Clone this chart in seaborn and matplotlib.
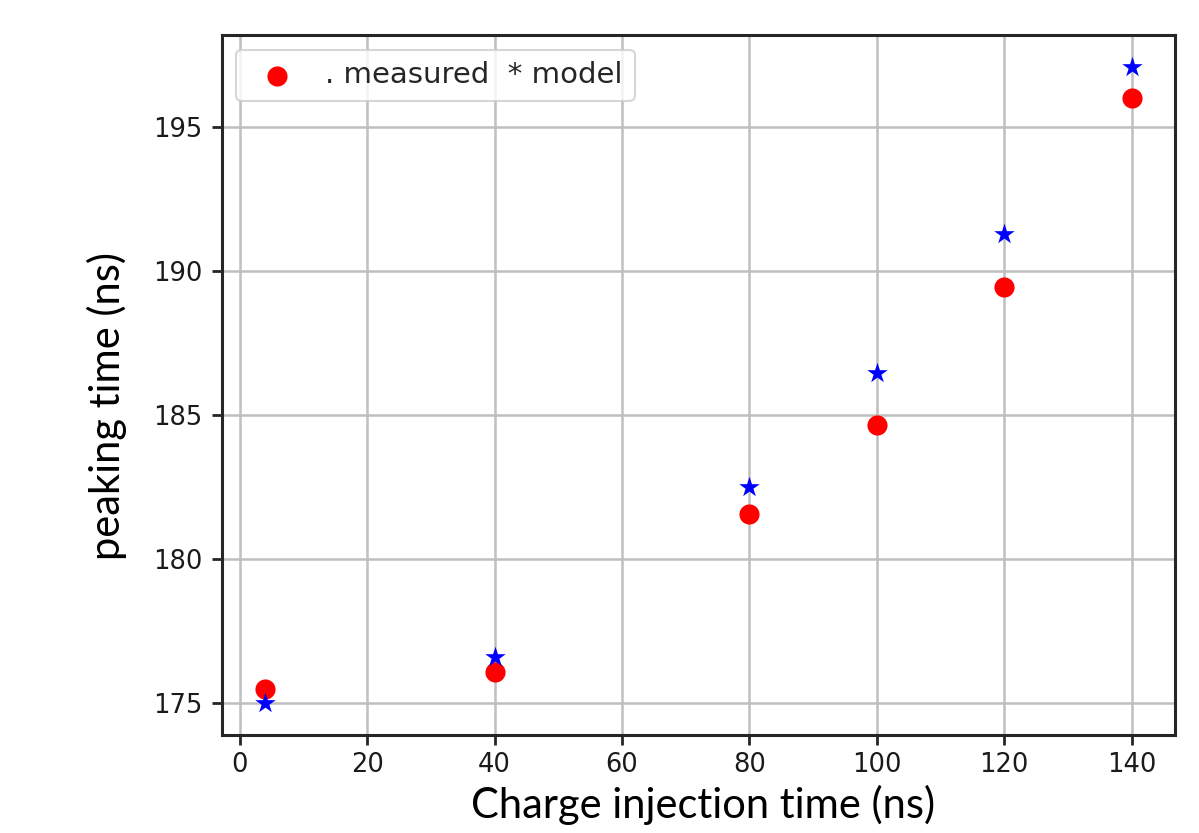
"""
Peaking time vs charge injection time: measured and model
"""
import numpy as np
import pandas as pd
import matplotlib
matplotlib.use("Agg")
import matplotlib.pyplot as plt
import seaborn as sns

# data
injection_time = [4, 40, 80, 100, 120, 140]
measured = [175.48, 176.07, 181.55, 184.67, 189.45, 196.0]
model = [175.0, 176.6, 182.49, 186.47, 191.29, 197.08]
x_ticks = [0, 20, 40, 60, 80, 100, 120, 140]
y_ticks = [175, 180, 185, 190, 195]

df = pd.DataFrame({"t": injection_time, "measured": measured, "model": model})

sns.set_theme(style="ticks")
plt.rcParams["font.family"] = ["DejaVu Sans"]

fig = plt.figure(figsize=(11.99, 8.33), dpi=100)
ax = fig.add_axes([0.185, 0.1176, 0.795, 0.8404])

sns.scatterplot(data=df, x="t", y="measured", color="red", marker="o",
                s=210, linewidth=0, label=". measured  * model", ax=ax, zorder=3)
sns.scatterplot(data=df, x="t", y="model", color="blue", marker="*",
                s=240, linewidth=0, legend=False, ax=ax, zorder=3)

ax.set_xticks(x_ticks)
ax.set_yticks(y_ticks)
ax.margins(0.05)
ax.grid(True, color="#bfbfbf", linewidth=1.8)
ax.set_axisbelow(True)

for sp in ax.spines.values():
    sp.set_color("#262626")
    sp.set_linewidth(2.2)
ax.tick_params(axis="both", length=7, width=2, color="#262626",
               labelsize=18.5, labelcolor="#1a1a1a")
ax.tick_params(axis="x", pad=5)
ax.tick_params(axis="y", pad=7)

ax.set_xlabel("Charge injection time (ns)", fontsize=30, family="Lato",
              color="black")
ax.set_ylabel("peaking time (ns)", fontsize=30, family="Lato", color="black")
ax.xaxis.set_label_coords(0.505, -0.0714)
ax.yaxis.set_label_coords(-0.0997, 0.47)

leg = ax.legend(loc="upper left", fontsize=21, borderpad=0.4,
                handlelength=2.0, handletextpad=0.65)
leg.get_frame().set_linewidth(1.5)

fig.savefig("out.png", dpi=100)
